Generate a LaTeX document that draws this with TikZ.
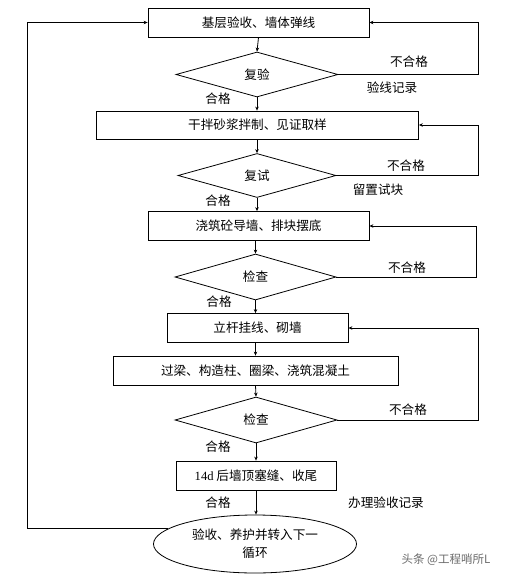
\documentclass[tikz,border=0pt]{standalone}
\usepackage{fontspec}
\setmainfont{Liberation Serif}
\newfontfamily\cjk{Noto Sans CJK SC}
\newfontfamily\tnr{Liberation Serif}
\usetikzlibrary{shapes.geometric,arrows.meta}
\begin{document}
\begin{tikzpicture}[x=1pt,y=-1pt,
  every node/.style={font=\cjk\fontsize{12.6}{18}\selectfont, inner sep=0pt},
  box/.style={draw, line width=0.8pt, rectangle},
  dia/.style={draw, line width=0.8pt, diamond},
  oval/.style={draw, line width=0.8pt, ellipse, align=center},
  ln/.style={line width=0.8pt},
  arr/.style={ln, -{Stealth[length=4pt,width=3.5pt]}},
  wmark/.style={text=gray!85!black, font=\cjk\fontsize{11.5}{14}\selectfont}]
\useasboundingbox[fill=white] (0,0) rectangle (508,577);

% main nodes
\node[box, minimum width=221pt, minimum height=29pt] (b1) at (258.5,22.5) {基层验收、墙体弹线};
\node[dia, minimum width=162pt, minimum height=45pt] (d1) at (257,74.5) {复验};
\node[box, minimum width=322pt, minimum height=28pt] (b2) at (257.5,125) {干拌砂浆拌制、见证取样};
\node[dia, minimum width=158pt, minimum height=44pt] (d2) at (257,175.5) {复试};
\node[box, minimum width=221pt, minimum height=29pt] (b3) at (258.5,226) {浇筑砼导墙、排块摆底};
\node[dia, minimum width=161pt, minimum height=46pt] (d3) at (255.5,277) {检查};
\node[box, minimum width=181pt, minimum height=29pt] (b4) at (257.5,328) {立杆挂线、砌墙};
\node[box, minimum width=285pt, minimum height=29pt] (b5) at (255.5,370.5) {过梁、构造柱、圈梁、浇筑混凝土};
\node[dia, minimum width=162pt, minimum height=46pt] (d4) at (256,420) {检查};
\node[box, minimum width=160pt, minimum height=29pt] (b6) at (256,475.5) {{\tnr 14d} 后墙顶塞缝、收尾};
\node[oval, minimum width=203pt, minimum height=58pt] (e) at (255,544) {验收、养护并转入下一\\循环};

% downward arrows
\draw[arr] (b1.south) -- (d1.north);
\draw[arr] (d1.south) -- (b2.north -| d1.south);
\draw[arr] (b2.south -| d2.north) -- (d2.north);
\draw[arr] (d2.south) -- (b3.north -| d2.south);
\draw[arr] (b3.south -| d3.north) -- (d3.north);
\draw[arr] (d3.south) -- (b4.north -| d3.south);
\draw[arr] (b4.south -| b5.north) -- (b5.north);
\draw[arr] (b5.south) -- (d4.north);
\draw[arr] (d4.south) -- (b6.north);
\draw[arr] (b6.south) -- (e.north -| b6.south);

% right-hand return loops
\coordinate (r1) at (478,74.5);
\coordinate (r2) at (478,175.5);
\coordinate (r3) at (476,277);
\coordinate (r4) at (478,420);
\draw[arr] (d1.east) -- (r1) |- (b1.east);
\draw[arr] (d2.east) -- (r2) |- (b2.east);
\draw[arr] (d3.east) -- (r3) |- (b3.east);
\draw[arr] (d4.east) -- (r4) |- (b4.east);

% left-hand loop
\coordinate (lc) at (27,22.5);
\draw[arr] (e.170) -| (lc) -- (b1.west);

% labels
\node (n1) at (409,62) {不合格};
\node (n2) at (406,166) {不合格};
\node (n3) at (407,268) {不合格};
\node (n4) at (408,410) {不合格};
\node (v1) at (392,88) {验线记录};
\node (v2) at (378,190) {留置试块};
\node (g1) at (218,99) {合格};
\node (g2) at (218,201) {合格};
\node (g3) at (219,302) {合格};
\node (g4) at (218,447) {合格};
\node (g5) at (218,503) {合格};
\node (v3) at (386,503) {办理验收记录};
\node[wmark] (wm) at (446,560) {头条 @工程哨所L};
\end{tikzpicture}
\end{document}
